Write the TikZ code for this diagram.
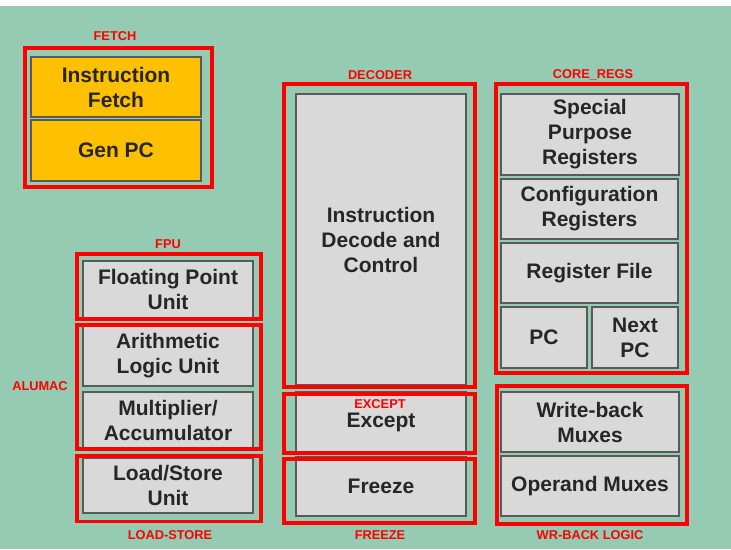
\documentclass[tikz,border=0pt]{standalone}
\usepackage{fontspec}
\setmainfont{Liberation Sans}
\definecolor{bggreen}{HTML}{95CBB2}
\definecolor{unitgray}{HTML}{D9D9D9}
\definecolor{unitgold}{HTML}{FFC000}
\definecolor{edgegray}{HTML}{5A5A5A}
\definecolor{inkdark}{HTML}{262626}
\definecolor{framered}{HTML}{FF0000}
\begin{document}
\begin{tikzpicture}[x=1pt,y=-1pt,
  unit/.style={draw=edgegray, line width=1.2pt, fill=unitgray, inner sep=0pt,
    text=inkdark, align=center, font=\fontsize{21}{25}\selectfont\bfseries},
  goldunit/.style={unit, fill=unitgold},
  frame/.style={draw=framered, line width=3.2pt, inner sep=0pt},
  tag/.style={text=framered, inner sep=0pt, font=\fontsize{12.8}{14}\selectfont\bfseries}]
% canvas
\useasboundingbox (0,0) rectangle (731,549);
\fill[white] (0,0) rectangle (731,549);
\fill[bggreen] (0,6) rectangle (731,549);

% fetch stage
\node[goldunit, minimum width=170pt, minimum height=60pt] (ifetch) at (116,87) {Instruction\\Fetch};
\node[goldunit, minimum width=170pt, minimum height=61pt] (genpc) at (116,150.5) {Gen PC};

% execution units
\node[unit, minimum width=170pt, minimum height=57pt] (fpuu) at (168,289.5) {Floating Point\\Unit};
\node[unit, minimum width=170pt, minimum height=60pt] (alu) at (168,356) {Arithmetic\\Logic Unit};
\node[unit, minimum width=170pt, minimum height=57pt] (mac) at (168,420.5) {Multiplier/\\Accumulator};
\node[unit, minimum width=170pt, minimum height=55pt] (lsu) at (168,485.5) {Load/Store\\Unit};

% decode column
\node[unit, minimum width=170pt, minimum height=291pt] (dec) at (381,239.5) {Instruction\\Decode and\\Control};
\node[unit, minimum width=170pt, minimum height=60pt] (exc) at (381,422) {Except};
\node[unit, minimum width=170pt, minimum height=59pt] (frz) at (381,486.5) {Freeze};

% register column
\node[unit, minimum width=178pt, minimum height=81pt] (spr) at (590,134.5) {Special\\Purpose\\Registers};
\node[unit, minimum width=177pt, minimum height=60pt] (cfg) at (589.5,209) {Configuration\\Registers};
\node[unit, minimum width=177pt, minimum height=60pt] (rf) at (589.5,273) {Register File};
\node[unit, minimum width=86pt, minimum height=61pt] (pc) at (544,337.5) {PC};
\node[unit, minimum width=86pt, minimum height=61pt] (npc) at (635,337.5) {Next\\PC};
\node[unit, minimum width=178pt, minimum height=60pt] (wbm) at (590,422) {Write-back\\Muxes};
\node[unit, minimum width=178pt, minimum height=60pt] (opm) at (590,486) {Operand Muxes};

% module boundaries
\node[frame, minimum width=187pt, minimum height=139pt] (fetchf) at (118.5,117.5) {};
\node[frame, minimum width=184pt, minimum height=65pt] (fpuf) at (169,286.5) {};
\node[frame, minimum width=184pt, minimum height=124pt] (alumacf) at (169,387) {};
\node[frame, minimum width=184pt, minimum height=65.5pt] (ldstf) at (169,488.75) {};
\node[frame, minimum width=191pt, minimum height=303pt] (decf) at (379.5,235.5) {};
\node[frame, minimum width=191pt, minimum height=59pt] (excf) at (379.5,423.5) {};
\node[frame, minimum width=191pt, minimum height=64pt] (frzf) at (379.5,491) {};
\node[frame, minimum width=191pt, minimum height=289pt] (regsf) at (591.5,228.5) {};
\node[frame, minimum width=190pt, minimum height=138pt] (wrbf) at (592,455) {};

% module names
\node[tag] (tfetch) at (115,36) {FETCH};
\node[tag] (tfpu) at (168,244) {FPU};
\node[tag] (talumac) at (40,386) {ALUMAC};
\node[tag] (tldst) at (170,535) {LOAD-STORE};
\node[tag] (tdec) at (380,75) {DECODER};
\node[tag] (texc) at (380,404) {EXCEPT};
\node[tag] (tfrz) at (380,535) {FREEZE};
\node[tag] (tregs) at (593,75) {CORE\_REGS};
\node[tag] (twrb) at (590,535) {WR-BACK LOGIC};
\end{tikzpicture}
\end{document}
